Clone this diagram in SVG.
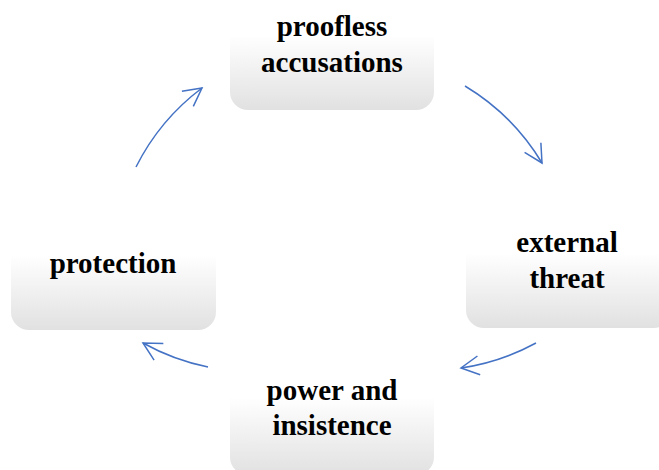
<svg xmlns="http://www.w3.org/2000/svg" width="659" height="470" viewBox="0 0 659 470">
  <style>
    .box { fill: url(#boxFill); }
    .label { font-family: "Liberation Serif", "Times New Roman", serif; font-weight: bold; font-size: 29px; fill: #000; text-anchor: middle; }
    .arc { fill: none; stroke: #4472c4; stroke-width: 1.5; marker-end: url(#head); }
  </style>
  <defs>
    <linearGradient id="boxFill" x1="0" y1="0" x2="0" y2="1">
      <stop offset="0" stop-color="#ffffff"/>
      <stop offset="0.4" stop-color="#ffffff"/>
      <stop offset="1" stop-color="#e1e1e1"/>
    </linearGradient>
    <marker id="head" markerUnits="userSpaceOnUse" viewBox="-22 -13 24 26" markerWidth="24" markerHeight="26" refX="0" refY="0" orient="auto" overflow="visible">
      <path d="M -18 -9.5 L 0 0 L -18 9.5" fill="none" stroke="#4472c4" stroke-width="1.5" stroke-linejoin="miter"/>
    </marker>
  </defs>

  <rect width="659" height="470" fill="#ffffff"/>

  <g id="node-proofless-accusations">
    <rect class="box" x="230" y="-15" width="204" height="125" rx="18"/>
    <text class="label" x="332" y="36">proofless</text>
    <text class="label" x="332" y="72">accusations</text>
  </g>

  <g id="node-external-threat">
    <rect class="box" x="466" y="203" width="206" height="125" rx="18"/>
    <text class="label" x="567" y="252">external</text>
    <text class="label" x="567" y="288">threat</text>
  </g>

  <g id="node-power-and-insistence">
    <rect class="box" x="230" y="345" width="204" height="130" rx="18"/>
    <text class="label" x="332" y="400">power and</text>
    <text class="label" x="332" y="435">insistence</text>
  </g>

  <g id="node-protection">
    <rect class="box" x="11" y="205" width="205" height="125" rx="18"/>
    <text class="label" x="113" y="273">protection</text>
  </g>

  <g id="connectors">
    <path class="arc" d="M 136 167 A 225 225 0 0 1 202 88"/>
    <path class="arc" d="M 465 86 A 225 225 0 0 1 542 163"/>
    <path class="arc" d="M 536 343 A 225 225 0 0 1 461 368"/>
    <path class="arc" d="M 208 367 A 225 225 0 0 1 143 343"/>
  </g>
</svg>
